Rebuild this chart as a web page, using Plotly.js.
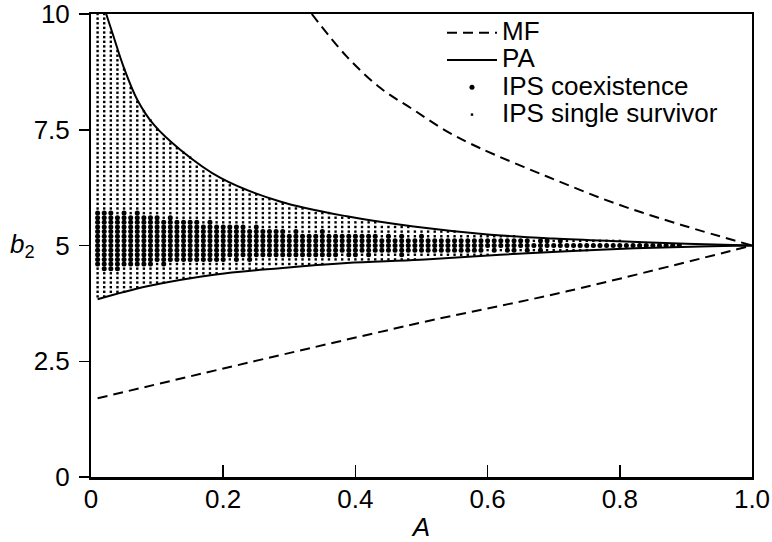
<!DOCTYPE html>
<html>
<head>
<meta charset="utf-8">
<script src="https://cdn.plot.ly/plotly-3.0.1.min.js"></script>
<style>html,body{margin:0;padding:0;background:#fff}#chart{width:772px;height:542px}</style>
</head>
<body>
<div id="chart"></div>
<script>
// ---- Mean-field (MF) curves ----
const mfUpperA = [0.334, 0.387, 0.438, 0.488, 0.539, 0.589, 0.69, 0.791, 0.892, 1.0];
const mfUpperB = [10, 9.08, 8.40, 7.93, 7.46, 7.10, 6.49, 5.92, 5.45, 5.0];
const mfLowerA = [0.01, 0.498, 0.72, 1.0];
const mfLowerB = [1.70, 3.33, 4.01, 5.0];

// ---- Pair approximation (PA) curves ----
const paUpperA = [0.023, 0.034, 0.049, 0.070, 0.095, 0.135, 0.196, 0.286, 0.387, 0.488, 0.6, 0.7, 0.8, 0.9, 1.0];
const paUpperB = [10, 9.52, 8.87, 8.15, 7.61, 7.07, 6.46, 5.95, 5.63, 5.41, 5.24, 5.15, 5.09, 5.04, 5.0];
const paLowerA = [0.01, 0.085, 0.186, 0.286, 0.387, 0.498, 0.619, 0.77, 0.922, 1.0];
const paLowerB = [3.84, 4.12, 4.37, 4.51, 4.62, 4.69, 4.80, 4.91, 4.98, 5.0];

// ---- IPS simulation grid: columns of A, b2 rows in tenths ----
const colA = [0.01,0.02,0.03,0.04,0.05,0.06,0.07,0.08,0.09,0.10,
              0.11,0.12,0.13,0.14,0.15,0.16,0.17,0.18,0.19,0.20,
              0.21,0.22,0.23,0.24,0.25,0.26,0.27,0.28,0.29,0.30,
              0.31,0.32,0.33,0.34,0.35,0.36,0.37,0.38,0.39,0.40,
              0.41,0.42,0.43,0.44,0.45,0.46,0.47,0.48,0.49,0.50,
              0.51,0.52,0.53,0.54,0.55,0.56,0.57,0.58,0.59,0.60,
              0.61,0.62,0.63,0.64,0.65,0.66,0.67,0.68,0.69,0.70,
              0.71,0.72,0.73,0.74,0.75,0.76,0.77,0.78,0.79,0.80,
              0.81,0.82,0.83,0.84,0.85,0.86,0.87,0.88,0.89];
// single survivor: top / bottom row (tenths of b2)
const ssTop = [100,100,96,92,88,84,81,79,77,75,
               73,72,71,70,69,67,66,65,64,64,
               63,62,62,61,61,60,60,59,59,58,
               58,58,57,57,57,57,56,56,56,55,
               55,55,55,54,54,54,54,54,53,53,
               53,53,53,53,53,52,52,52,52,52,
               52,52,52,52,51,51,51,51,51,51,
               51,51,51,51,51,51,51,51,51,51,
               50,50,50,50,50,50,50,50,50];
const ssBot = [39,39,40,40,40,41,41,42,42,42,
               42,43,43,43,43,44,44,44,44,45,
               45,45,45,45,45,45,46,46,46,46,
               46,46,46,46,46,47,47,47,47,47,
               47,47,47,47,47,47,47,47,47,48,
               48,48,48,48,48,48,48,48,48,48,
               49,49,49,49,49,49,49,49,49,49,
               49,49,49,49,49,50,50,50,50,50,
               50,50,50,50,50,50,50,50,50];
// coexistence: top / bottom row (tenths of b2)
const coTop = [57,57,57,56,57,56,57,56,56,56,
               55,56,55,55,55,55,54,55,54,54,
               54,54,54,53,54,53,53,53,53,52,
               53,52,52,52,53,52,52,52,52,52,
               52,52,52,51,52,51,52,51,51,52,
               51,51,51,51,51,51,51,51,51,51,
               51,51,51,51,51,51,50,51,51,50,
               51,50,50,50,50,50,50,50,50,50,
               50,50,50,50,50,50,50,50,50];
const coBot = [46,45,45,45,46,46,46,46,46,47,
               46,47,47,47,47,47,47,47,47,47,
               48,47,48,47,48,48,48,48,48,48,
               48,48,48,48,48,48,48,49,48,48,
               49,48,49,49,49,49,48,49,49,49,
               49,49,49,49,49,49,49,49,49,50,
               49,50,49,49,50,49,50,49,50,50,
               50,50,50,50,50,50,50,50,50,50,
               50,50,50,50,50,50,50,50,50];

function expand(tops, bots) {
  const xs = [], ys = [];
  for (let i = 0; i < colA.length; i++) {
    for (let k = bots[i]; k <= tops[i]; k++) { xs.push(colA[i]); ys.push(k / 10); }
  }
  return {xs, ys};
}
const ss = expand(ssTop, ssBot);
const co = expand(coTop, coBot);

const FONT = 'Liberation Sans, Arial, Helvetica, sans-serif';
const LF = s => '<span style="font-size:26px">' + s + '</span>';

const traces = [
  {x: ss.xs, y: ss.ys, type: 'scatter', mode: 'markers', name: LF('IPS single survivor'), legendrank: 4,
   marker: {symbol: 'square', size: 2.4, color: '#000', line: {width: 0}}},
  {x: co.xs, y: co.ys, type: 'scatter', mode: 'markers', name: LF('IPS coexistence'), legendrank: 3,
   marker: {symbol: 'circle', size: 5, color: '#000', line: {width: 0}}},
  {x: mfUpperA.concat([null], mfLowerA), y: mfUpperB.concat([null], mfLowerB), type: 'scatter', mode: 'lines',
   name: LF('MF'), legendrank: 1, line: {color: '#000', width: 2, dash: '10px,6px', shape: 'spline', smoothing: 1}},
  {x: paUpperA.concat([null], paLowerA), y: paUpperB.concat([null], paLowerB), type: 'scatter', mode: 'lines',
   name: LF('PA'), legendrank: 2, line: {color: '#000', width: 2, shape: 'spline', smoothing: 1}}
];

const layout = {
  width: 772, height: 542,
  margin: {l: 91, r: 20, t: 14, b: 65},
  paper_bgcolor: '#fff', plot_bgcolor: '#fff',
  font: {family: FONT, size: 26, color: '#000'},
  showlegend: true,
  legend: {x: 0.531, y: 1, xanchor: 'left', yanchor: 'top', bgcolor: 'rgba(0,0,0,0)', borderwidth: 0,
           font: {family: FONT, size: 18.7, color: '#000'}, tracegroupgap: 0, itemwidth: 50},
  xaxis: {range: [0, 1], tickvals: [0, 0.2, 0.4, 0.6, 0.8, 1.0], ticktext: ['0', '0.2', '0.4', '0.6', '0.8', '1.0'],
          ticks: 'inside', ticklen: 12, tickwidth: 1.5, tickcolor: '#000', ticklabeloverflow: 'allow',
          ticklabelstandoff: -3,
          showline: true, linewidth: 2.5, linecolor: '#000', mirror: true, showgrid: false, zeroline: false,
          tickfont: {family: FONT, size: 26, color: '#000'},
          title: {text: '<i>A</i>', font: {family: FONT, size: 26, color: '#000'}, standoff: 6}},
  yaxis: {range: [0, 10], tickvals: [0, 2.5, 5, 7.5, 10], ticktext: ['0', '2.5', '5', '7.5', '10'],
          ticks: 'outside', ticklen: 10, tickwidth: 1.5, tickcolor: '#000', ticklabelstandoff: 4,
          ticklabeloverflow: 'allow',
          showline: true, linewidth: 2, linecolor: '#000', mirror: true, showgrid: false, zeroline: false,
          tickfont: {family: FONT, size: 26, color: '#000'}},
  annotations: [{xref: 'paper', yref: 'paper', x: -0.104, y: 0.5, xanchor: 'center', yanchor: 'middle',
                 showarrow: false, text: '<i>b</i><sub>2</sub>', font: {family: FONT, size: 26, color: '#000'}}]
};

Plotly.newPlot('chart', traces, layout, {staticPlot: true, displayModeBar: false});
</script>
</body>
</html>
